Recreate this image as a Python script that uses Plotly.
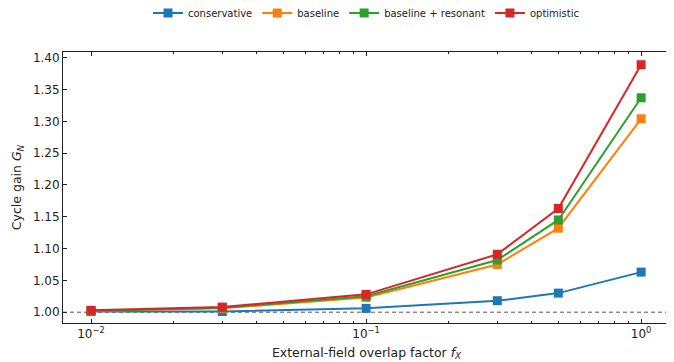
import plotly.graph_objects as go

fx = [0.01, 0.03, 0.1, 0.3, 0.5, 1.0]
conservative = [1.001, 1.001, 1.006, 1.018, 1.030, 1.063]
baseline = [1.002, 1.006, 1.023, 1.075, 1.132, 1.304]
resonant = [1.002, 1.007, 1.025, 1.082, 1.145, 1.337]
optimistic = [1.003, 1.008, 1.028, 1.091, 1.163, 1.389]

series = [
    ("conservative", conservative, "#1f77b4"),
    ("baseline", baseline, "#ff7f0e"),
    ("baseline + resonant", resonant, "#2ca02c"),
    ("optimistic", optimistic, "#d62728"),
]

fig = go.Figure()
for name, ys, c in series:
    fig.add_trace(go.Scatter(x=fx, y=ys, name=name, mode="lines+markers",
                             line=dict(color=c, width=2),
                             marker=dict(symbol="square", size=9, color=c)))

fig.add_shape(type="line", xref="paper", yref="y", x0=0, x1=1, y0=1.0, y1=1.0,
              line=dict(color="#555555", width=1, dash="4px,3px"), layer="below")

# page body has an 8px default margin; figure is sized/offset to compensate
fig.update_layout(
    width=666, height=354,
    margin=dict(l=55, r=4, t=44, b=39, autoexpand=False),
    paper_bgcolor="white", plot_bgcolor="white",
    font=dict(family="DejaVu Sans", size=12, color="#222222"),
    legend=dict(orientation="h", x=0.5, xanchor="center", y=1.144, yanchor="middle",
                font=dict(size=10), itemwidth=30),
    showlegend=True,
)
fig.update_xaxes(type="log", range=[-2.102, 0.105], automargin=False,
                 tickvals=[0.01, 0.1, 1], ticktext=["10<sup>−2</sup>", "10<sup>−1</sup>", "10<sup>0</sup>"],
                 ticks="inside", ticklen=4, tickcolor="#222", showline=True, linecolor="#222",
                 linewidth=1, mirror="ticks", showgrid=False, zeroline=False,
                 minor=dict(ticks="inside", ticklen=2, tickcolor="#222", showgrid=False,
                            tickvals=[0.02,0.03,0.04,0.05,0.06,0.07,0.08,0.09,0.2,0.3,0.4,0.5,0.6,0.7,0.8,0.9]),
                 title=dict(text="External-field overlap factor <i>f<sub>X</sub></i>", font=dict(size=12.5), standoff=7))
fig.update_yaxes(range=[0.983, 1.409], tickvals=[1.0,1.05,1.1,1.15,1.2,1.25,1.3,1.35,1.4],
                 tickformat=".2f", automargin=False,
                 ticks="inside", ticklen=4, tickcolor="#222", showline=True, linecolor="#222",
                 linewidth=1, mirror="ticks", showgrid=False, zeroline=False,
                 title=dict(text="Cycle gain <i>G<sub>N</sub></i>", font=dict(size=12.5), standoff=8))

fig.write_html("out.html")
